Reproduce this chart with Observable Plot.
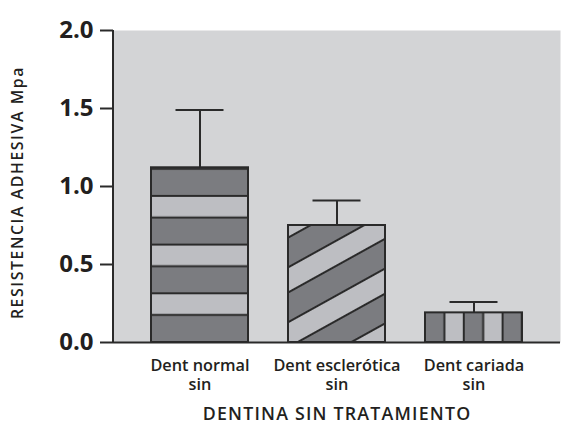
<!DOCTYPE html>
<html>
<head>
<meta charset="utf-8">
<script src="https://cdn.jsdelivr.net/npm/d3@7"></script>
<script src="https://cdn.jsdelivr.net/npm/@observablehq/plot@0.6"></script>
<style>
  html, body { margin: 0; padding: 0; background: #fff; }
  svg text { font-family: "Open Sans", "Noto Sans", sans-serif; }
</style>
</head>
<body>
<div id="chart"></div>
<script>
const categories = ["Dent normal\nsin", "Dent esclerótica\nsin", "Dent cariada\nsin"];
const means = [1.12, 0.75, 0.19];
const errorTops = [1.49, 0.91, 0.26];
const patterns = ["url(#pat-horiz)", "url(#pat-diag)", "url(#pat-vert)"];
const yTicks = [0, 0.5, 1.0, 1.5, 2.0];
const yTitle = "RESISTENCIA ADHESIVA Mpa";
const xTitle = "DENTINA SIN TRATAMIENTO";

const data = categories.map((c, i) => ({cat: c, mean: means[i], hi: errorTops[i], pat: patterns[i]}));

const INK = "#2a2a2a";
const TXT = "#231f20";
const DARK = "#7b7c80";
const LIGHT = "#bdbec2";
const BG = "#d3d4d6";

const chart = Plot.plot({
  width: 561,
  height: 429,
  marginLeft: 113,
  marginTop: 30,
  marginRight: 1,
  marginBottom: 87,
  x: {domain: categories, paddingInner: 0.295, paddingOuter: 0.273, label: null},
  y: {domain: [0, 2], label: null},
  color: {type: "identity"},
  marks: [
    Plot.frame({fill: BG, stroke: null}),
    Plot.barY(data, {x: "cat", y: "mean", fill: "pat", stroke: INK, strokeWidth: 2}),
    Plot.ruleX(data, {x: "cat", y1: "mean", y2: "hi", stroke: INK, strokeWidth: 2}),
    Plot.tickY(data, {x: "cat", y: "hi", stroke: INK, strokeWidth: 2, insetLeft: 24.5, insetRight: 24.5}),
    Plot.ruleY([0], {stroke: INK, strokeWidth: 2}),
    Plot.axisY({ticks: yTicks, tickFormat: d3.format(".1f"), tickSize: 13, tickPadding: 7,
      fontSize: 24, fontWeight: "bold", stroke: INK, strokeWidth: 2, fill: TXT, label: null}),
    Plot.axisX({tickSize: 0, tickPadding: 15, fontSize: 16.3, fontWeight: 600, fill: TXT, label: null, lineHeight: 1.16}),
    Plot.text([yTitle], {frameAnchor: "left", textAnchor: "middle", rotate: -90, dx: -96, dy: 6, fontSize: 15.8, fontWeight: 600, fill: TXT}),
    Plot.text([xTitle], {frameAnchor: "bottom", textAnchor: "middle", dy: 77, fontSize: 17.8, fontWeight: 600, fill: TXT})
  ]
});

const xs = chart.scale("x");
const ys = chart.scale("y");
const bw = xs.bandwidth;
const y0 = ys.apply(0);
const svg = d3.select(chart);

// letter spacing to match the wider original typeface
svg.selectAll("text").filter(function() { return this.textContent === xTitle; }).attr("letter-spacing", 1.2);
svg.selectAll("text").filter(function() { return this.textContent === yTitle; }).attr("letter-spacing", 1.6);

// y axis line
svg.append("line")
  .attr("x1", 113).attr("x2", 113)
  .attr("y1", ys.apply(2)).attr("y2", y0 + 1)
  .attr("stroke", INK).attr("stroke-width", 2);

const defs = svg.insert("defs", ":first-child");

// horizontal stripes (bar 1)
{
  const P = 48.7, light = 21.7;
  const p = defs.append("pattern").attr("id", "pat-horiz").attr("patternUnits", "userSpaceOnUse")
    .attr("x", 0).attr("y", y0 - P).attr("width", 600).attr("height", P);
  p.append("rect").attr("width", 600).attr("height", P).attr("fill", DARK);
  p.append("rect").attr("width", 600).attr("height", light).attr("fill", LIGHT);
  [0, light, P].forEach(v => p.append("line").attr("x1", 0).attr("x2", 600).attr("y1", v).attr("y2", v).attr("stroke", INK).attr("stroke-width", 2));
}
// diagonal stripes (bar 2)
{
  const P = 48, dark = 26;
  const left = xs.apply(categories[1]);
  const top = ys.apply(means[1]);
  const p = defs.append("pattern").attr("id", "pat-diag").attr("patternUnits", "userSpaceOnUse")
    .attr("x", 0).attr("y", 0).attr("width", 400).attr("height", P)
    .attr("patternTransform", `translate(${left},${top + 12.7}) rotate(-29)`);
  p.append("rect").attr("width", 400).attr("height", P).attr("fill", LIGHT);
  p.append("rect").attr("width", 400).attr("height", dark).attr("fill", DARK);
  [0, dark, P].forEach(v => p.append("line").attr("x1", 0).attr("x2", 400).attr("y1", v).attr("y2", v).attr("stroke", INK).attr("stroke-width", 2));
}
// vertical stripes (bar 3)
{
  const W = bw / 5;
  const left = xs.apply(categories[2]);
  const p = defs.append("pattern").attr("id", "pat-vert").attr("patternUnits", "userSpaceOnUse")
    .attr("x", left).attr("y", 0).attr("width", 2 * W).attr("height", 600);
  p.append("rect").attr("width", 2 * W).attr("height", 600).attr("fill", LIGHT);
  p.append("rect").attr("width", W).attr("height", 600).attr("fill", DARK);
  [0, W, 2 * W].forEach(v => p.append("line").attr("x1", v).attr("x2", v).attr("y1", 0).attr("y2", 600).attr("stroke", INK).attr("stroke-width", 2));
}

document.getElementById("chart").appendChild(chart);
</script>
</body>
</html>
